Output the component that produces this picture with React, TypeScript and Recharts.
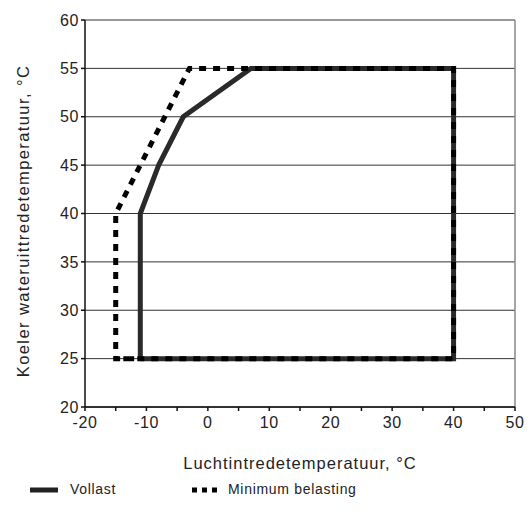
import React from "react";
import { LineChart, Line, XAxis, YAxis, CartesianGrid, ReferenceLine } from "recharts";

const vollastX = [-11, -11, -8, -4, 7, 40, 40, -11];
const vollastY = [25, 40, 45, 50, 55, 55, 25, 25];
const minimumX = [-12, -15, -15, -3, 40, 40, -15];
const minimumY = [25, 25, 40, 55, 55, 25, 25];
const xTicks = [-20, -15, -10, -5, 0, 5, 10, 15, 20, 25, 30, 35, 40, 45, 50];
const yTicks = [20, 25, 30, 35, 40, 45, 50, 55, 60];
const xLabel = "Luchtintredetemperatuur, °C";
const yLabel = "Koeler wateruittredetemperatuur, °C";
const seriesNames = ["Vollast", "Minimum belasting"];

const vollast = vollastX.map((x, i) => ({ x, y: vollastY[i] }));
const minimum = minimumX.map((x, i) => ({ x, y: minimumY[i] }));

const FONT = "'Liberation Sans', Arial, sans-serif";

export default function App() {
  return (
    <div style={{ position: "relative", width: 524, height: 506, fontFamily: FONT, color: "#222" }}>
      <LineChart width={524} height={506} margin={{ top: 12, right: 17, left: 17, bottom: 77 }}>
        <CartesianGrid vertical={false} stroke="#333" strokeWidth={1} />
        <ReferenceLine x={50} stroke="#888" strokeWidth={1.5} />
        <XAxis
          type="number"
          dataKey="x"
          domain={[-20, 50]}
          ticks={xTicks}
          interval={0}
          allowDataOverflow
          tickFormatter={(v: number) => (v % 10 === 0 ? String(v) : "")}
          stroke="#111"
          strokeWidth={1.5}
          tickSize={4}
          tick={{ fill: "#222", fontSize: 16, fontFamily: FONT, dy: 4, style: { letterSpacing: "0.6px" } }}
          height={30}
        />
        <YAxis
          type="number"
          dataKey="y"
          domain={[20, 60]}
          ticks={yTicks}
          interval={0}
          stroke="#111"
          strokeWidth={1.5}
          tickSize={4}
          tick={{ fill: "#222", fontSize: 16, fontFamily: FONT, style: { letterSpacing: "0.6px" } }}
          width={60}
        />
        <Line
          data={vollast}
          dataKey="y"
          type="linear"
          stroke="#2a2a2a"
          strokeWidth={5}
          dot={false}
          isAnimationActive={false}
          strokeLinejoin="miter"
        />
        <Line
          data={minimum}
          dataKey="y"
          type="linear"
          stroke="#000"
          strokeWidth={5}
          strokeDasharray="7 7"
          dot={false}
          isAnimationActive={false}
        />
      </LineChart>
      <div
        style={{
          position: "absolute",
          left: 0,
          width: 584,
          top: 446,
          textAlign: "center",
          fontSize: 16.5,
          letterSpacing: "1px",
        }}
      >
        {xLabel}
      </div>
      <div style={{ position: "absolute", left: 15, top: 213, width: 0, height: 0 }}>
        <div
          style={{
            position: "absolute",
            transform: "translate(-50%, -50%) rotate(-90deg)",
            whiteSpace: "nowrap",
            fontSize: 16.5,
            letterSpacing: "1.4px",
          }}
        >
          {yLabel}
        </div>
      </div>
      <svg style={{ position: "absolute", left: 0, top: 0 }} width={524} height={506}>
        <line x1={22} x2={50} y1={482} y2={482} stroke="#222" strokeWidth={5} />
        <line x1={184} x2={212} y1={482} y2={482} stroke="#000" strokeWidth={5} strokeDasharray="5 5" />
      </svg>
      <div style={{ position: "absolute", left: 62, top: 473, fontSize: 14, letterSpacing: "0.7px" }}>
        {seriesNames[0]}
      </div>
      <div style={{ position: "absolute", left: 220, top: 473, fontSize: 14, letterSpacing: "0.7px" }}>
        {seriesNames[1]}
      </div>
    </div>
  );
}
